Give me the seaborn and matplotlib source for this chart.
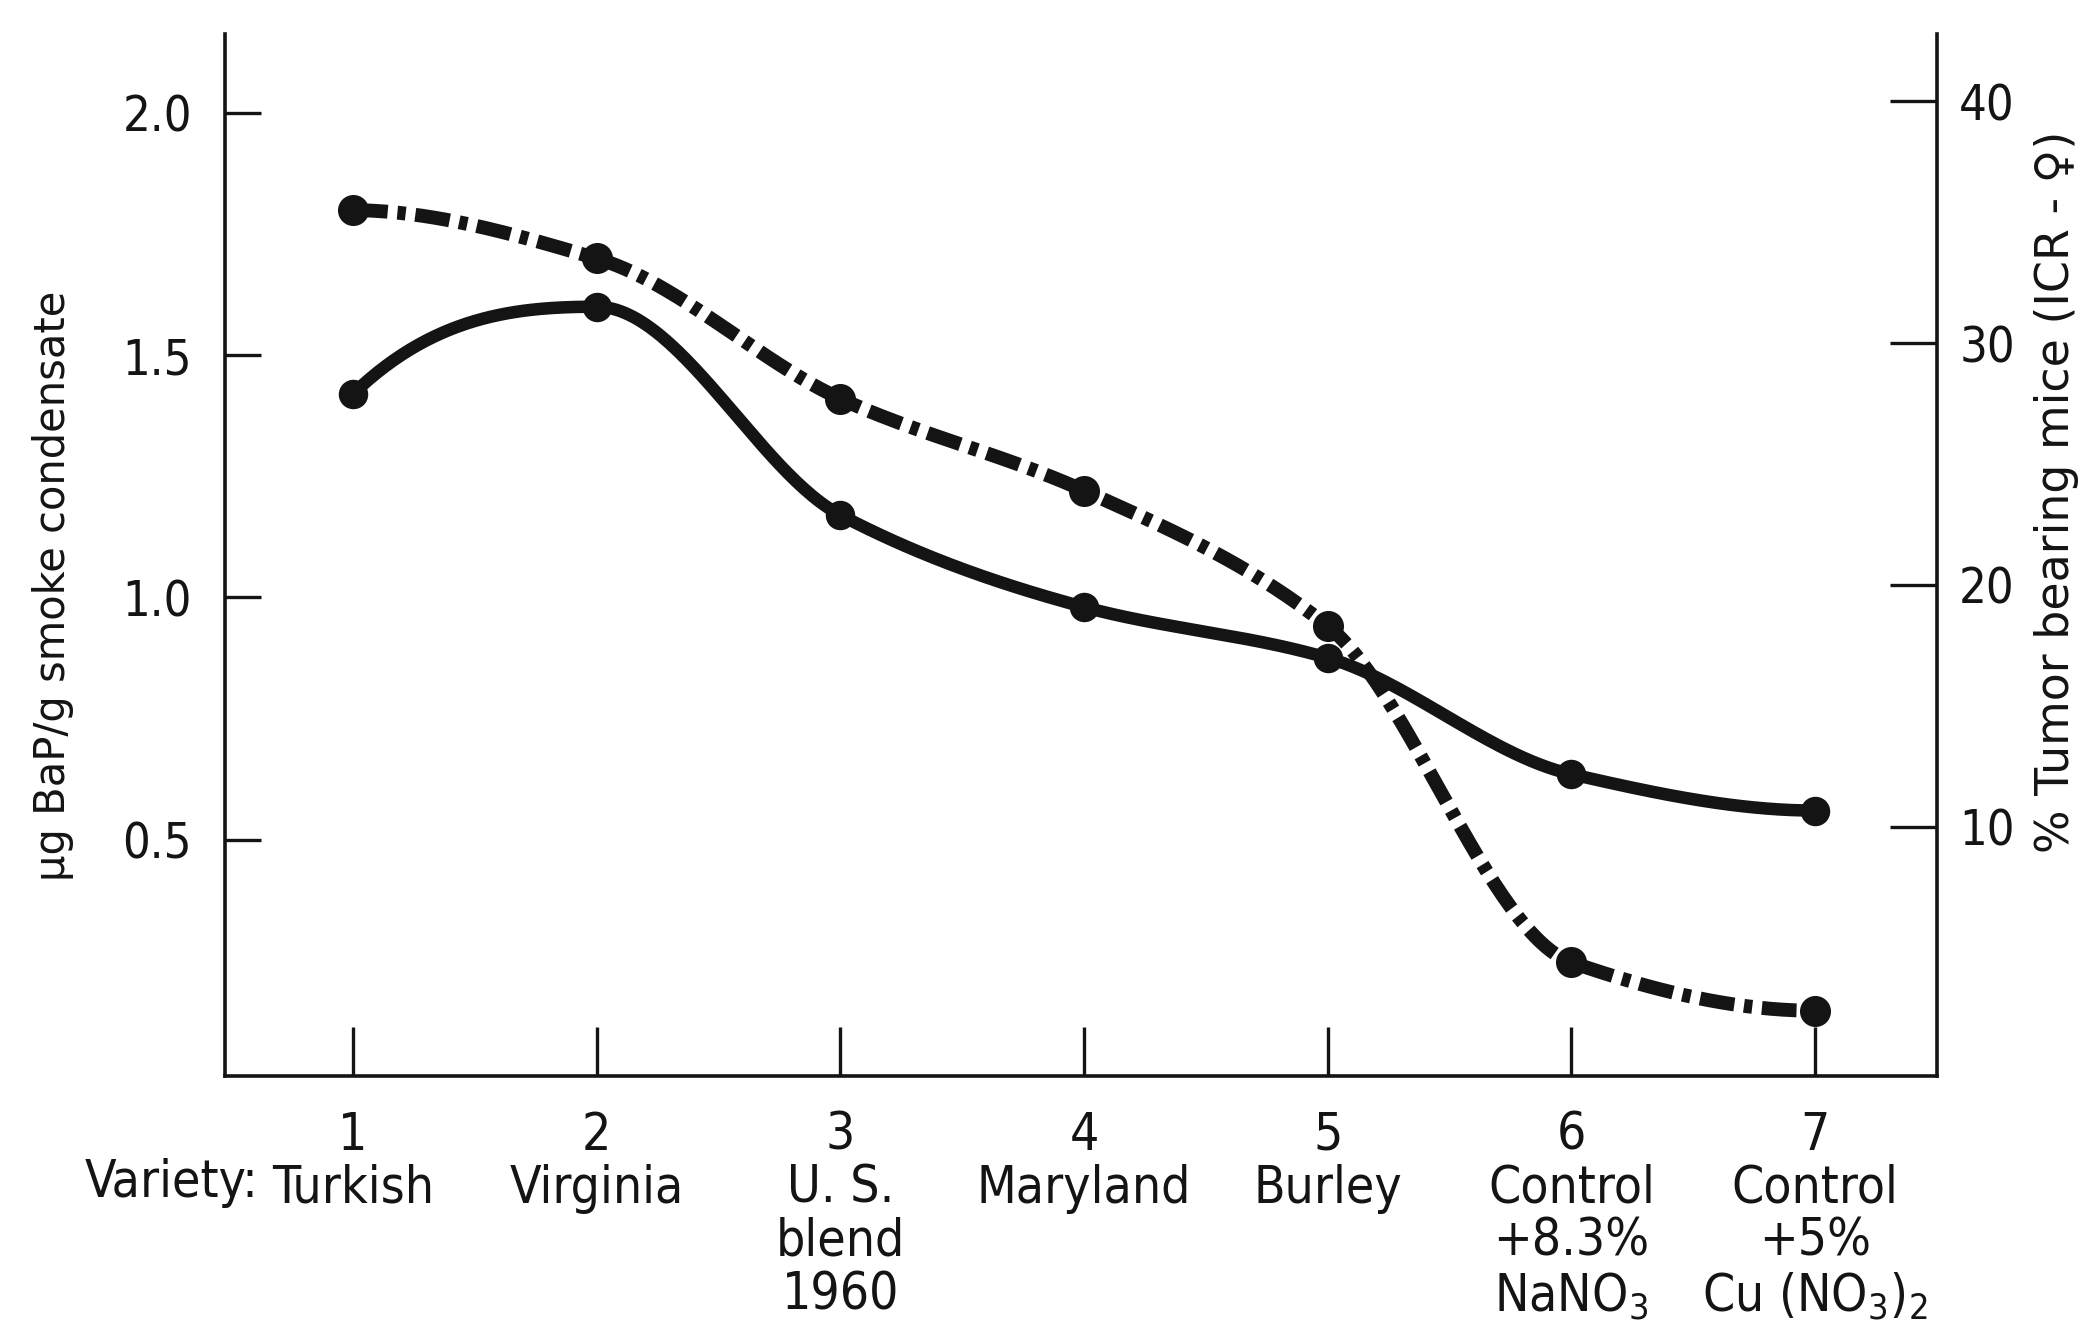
import numpy as np
import pandas as pd
import matplotlib
matplotlib.use("Agg")
import matplotlib.pyplot as plt
import seaborn as sns

# ---- data -------------------------------------------------------------
positions = [1, 2, 3, 4, 5, 6, 7]
variety_labels = [
    "1\nTurkish",
    "2\nVirginia",
    "3\nU. S.\nblend\n1960",
    "4\nMaryland",
    "5\nBurley",
    "6\nControl\n+8.3%\nNaNO$_3$",
    "7\nControl\n+5%\nCu (NO$_3$)$_2$",
]
bap_ug_per_g = [1.42, 1.60, 1.17, 0.98, 0.875, 0.635, 0.56]     # left axis, solid
tumor_pct = [35.5, 33.5, 27.7, 23.9, 18.3, 4.4, 2.4]            # right axis, dash-dot
left_ticks = [0.5, 1.0, 1.5, 2.0]
left_tick_labels = ["0.5", "1.0", "1.5", "2.0"]
right_ticks = [10, 20, 30, 40]
right_tick_labels = ["10", "20", "30", "40"]

INK = "#141414"

sns.set_theme(style="white")
plt.rcParams["font.family"] = ["DejaVu Sans"]
plt.rcParams["font.stretch"] = "condensed"
plt.rcParams["text.color"] = INK
plt.rcParams["axes.edgecolor"] = INK
plt.rcParams["mathtext.fontset"] = "dejavusans"


def smooth_path(xv, yv, n=60):
    """Monotone cubic (Fritsch-Carlson) path through the points, for drawing."""
    x = np.asarray(xv, float)
    y = np.asarray(yv, float)
    h = np.diff(x)
    d = np.diff(y) / h
    m = np.zeros_like(y)
    for k in range(1, len(y) - 1):
        if d[k - 1] * d[k] > 0:
            w1 = 2 * h[k] + h[k - 1]
            w2 = h[k] + 2 * h[k - 1]
            m[k] = (w1 + w2) / (w1 / d[k - 1] + w2 / d[k])

    def end_slope(h0, h1, d0, d1):
        s = ((2 * h0 + h1) * d0 - h0 * d1) / (h0 + h1)
        if np.sign(s) != np.sign(d0):
            return 0.0
        if np.sign(d0) != np.sign(d1) and abs(s) > 3 * abs(d0):
            return 3 * d0
        return s

    m[0] = end_slope(h[0], h[1], d[0], d[1])
    m[-1] = end_slope(h[-1], h[-2], d[-1], d[-2])
    xs, ys = [], []
    for i in range(len(x) - 1):
        t = np.linspace(0, 1, n, endpoint=False)
        h00 = 2 * t**3 - 3 * t**2 + 1
        h10 = t**3 - 2 * t**2 + t
        h01 = -2 * t**3 + 3 * t**2
        h11 = t**3 - t**2
        xs.append(x[i] + t * h[i])
        ys.append(h00 * y[i] + h10 * h[i] * m[i] + h01 * y[i + 1] + h11 * h[i] * m[i + 1])
    xs.append([x[-1]])
    ys.append([y[-1]])
    return np.concatenate(xs), np.concatenate(ys)


fig = plt.figure(figsize=(20.9, 13.4), dpi=100)
fig.subplots_adjust(left=0.1077, right=0.9268, bottom=0.197, top=0.975)
ax = fig.add_subplot(111)
ax2 = ax.twinx()

df = pd.DataFrame({"pos": positions, "bap": bap_ug_per_g, "tumor": tumor_pct})

# BaP content: solid curve with filled points
sx, sy = smooth_path(df["pos"], df["bap"])
sns.lineplot(x=sx, y=sy, ax=ax, color=INK, lw=9, sort=False, estimator=None,
             solid_capstyle="round")
sns.scatterplot(data=df, x="pos", y="bap", ax=ax, color=INK, s=450,
                edgecolor=INK, linewidth=0, zorder=5)

# Tumor incidence: heavy dash-dot curve with filled points
tx, ty = smooth_path(df["pos"], df["tumor"])
sns.lineplot(x=tx, y=ty, ax=ax2, color=INK, lw=10, sort=False, estimator=None)
ax2.lines[-1].set_linestyle((0, (2.5, 0.7, 0.6, 0.7)))
ax2.lines[-1].set_dash_capstyle("butt")
sns.scatterplot(data=df, x="pos", y="tumor", ax=ax2, color=INK, s=500,
                edgecolor=INK, linewidth=0, zorder=5)

ax.set_xlim(0.475, 7.5)
ax.set_ylim(0.012, 2.164)
ax2.set_ylim(-0.3, 42.8)

for a in (ax, ax2):
    a.spines["top"].set_visible(False)
    for s in ("left", "right", "bottom"):
        a.spines[s].set_linewidth(2.6)
        a.spines[s].set_color(INK)
ax.spines["right"].set_visible(False)
ax2.spines["left"].set_visible(False)
ax2.spines["bottom"].set_visible(False)

ax.set_xticks(positions)
ax.set_xticklabels(variety_labels, fontsize=37, linespacing=1.08,
                   ha="center", va="top")
ax.set_yticks(left_ticks)
ax.set_yticklabels(left_tick_labels, fontsize=35)
ax2.set_yticks(right_ticks)
ax2.set_yticklabels(right_tick_labels, fontsize=35)
ax.tick_params(axis="x", direction="in", length=35, width=2.4, pad=25,
               colors=INK, bottom=True)
ax.tick_params(axis="y", direction="in", length=26, width=2.4, pad=24,
               colors=INK, left=True)
ax2.tick_params(axis="y", direction="in", length=34, width=2.4, pad=16,
                colors=INK, right=True)

ax.set_xlabel("")
ax.set_ylabel("µg BaP/g smoke condensate", fontsize=30, color=INK,
              fontstretch="normal")
ax.yaxis.set_label_coords(-0.088, 0.47)
ax2.set_ylabel("% Tumor bearing mice (ICR - \u2640)", fontsize=33,
               color=INK, rotation=90, fontstretch="normal")
ax2.yaxis.set_label_coords(1.0565, 0.56)

fig.text(0.1235, 0.1175, "Variety:", ha="right", va="center", fontsize=37,
         color=INK)

fig.savefig("out.png", dpi=100, facecolor="white")
